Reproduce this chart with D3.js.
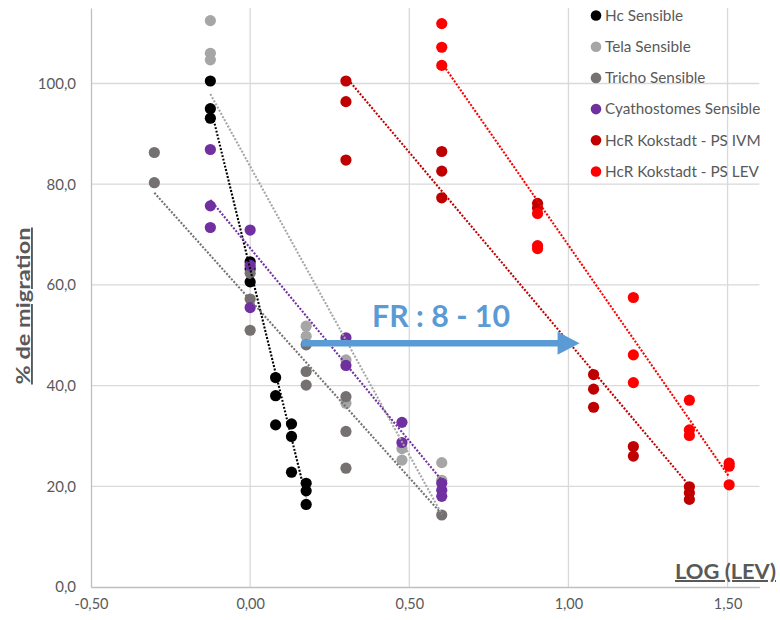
<!DOCTYPE html>
<html>
<head>
<meta charset="utf-8">
<script src="https://cdn.jsdelivr.net/npm/d3@7"></script>
<style>
  html, body { margin: 0; padding: 0; background: #fff; }
  svg { display: block; font-family: Lato, "Open Sans", sans-serif; }
</style>
</head>
<body>
<svg id="chart" width="780" height="620"></svg>
<script>
// ---- data (x = log concentration, y = % de migration) ----
const seriesNames = ["Hc Sensible", "Tela Sensible", "Tricho Sensible", "Cyathostomes Sensible", "HcR Kokstadt - PS IVM", "HcR Kokstadt - PS LEV"];
const seriesColors = ["#000000", "#A6A6A6", "#767171", "#7030A0", "#C00000", "#FF0000"];

const hcX = [-0.125, -0.125, -0.125, 0, 0, 0, 0.08, 0.08, 0.08, 0.13, 0.13, 0.13, 0.176, 0.176, 0.176];
const hcY = [100.5, 95.0, 93.1, 64.6, 63.2, 60.6, 41.6, 38.0, 32.2, 32.4, 29.9, 22.8, 20.6, 19.1, 16.4];

const telaX = [-0.125, -0.125, -0.125, 0.176, 0.176, 0.301, 0.301, 0.477, 0.477, 0.602, 0.602];
const telaY = [112.5, 106.0, 104.7, 51.8, 49.8, 45.1, 36.5, 27.5, 25.2, 24.7, 21.2];

const trichoX = [-0.301, -0.301, 0, 0, 0, 0.176, 0.176, 0.176, 0.301, 0.301, 0.301, 0.602];
const trichoY = [86.3, 80.3, 62.3, 57.2, 51.0, 48.1, 42.8, 40.1, 37.8, 30.9, 23.6, 14.3];

const cyathX = [-0.125, -0.125, -0.125, 0, 0, 0, 0.301, 0.301, 0.477, 0.477, 0.602, 0.602, 0.602];
const cyathY = [86.9, 75.7, 71.4, 70.9, 63.9, 55.5, 49.5, 44.0, 32.7, 28.7, 20.6, 19.2, 18.0];

const ivmX = [0.301, 0.301, 0.301, 0.602, 0.602, 0.602, 0.903, 0.903, 1.079, 1.079, 1.079, 1.204, 1.204, 1.38, 1.38, 1.38];
const ivmY = [100.5, 96.4, 84.8, 86.5, 82.6, 77.3, 76.2, 75.3, 42.2, 39.3, 35.7, 27.9, 26.0, 19.9, 18.7, 17.4];

const levX = [0.602, 0.602, 0.602, 0.903, 0.903, 0.903, 1.204, 1.204, 1.204, 1.38, 1.38, 1.38, 1.505, 1.505, 1.505];
const levY = [111.9, 107.2, 103.6, 74.2, 67.8, 67.2, 57.5, 46.1, 40.6, 37.1, 31.2, 30.1, 24.6, 24.0, 20.3];

// linear trendlines: [[x0, y0], [x1, y1]]
const hcTrend = [[-0.125, 95.5], [0.176, 17.7]];
const telaTrend = [[-0.125, 97.9], [0.602, 14.5]];
const trichoTrend = [[-0.301, 78.3], [0.602, 14.5]];
const cyathTrend = [[-0.125, 76.9], [0.602, 21.2]];
const ivmTrend = [[0.301, 101.3], [1.38, 20.1]];
const levTrend = [[0.602, 104.1], [1.505, 21.9]];

const xTickValues = [-0.5, 0, 0.5, 1.0, 1.5];
const xTickLabels = ["-0,50", "0,00", "0,50", "1,00", "1,50"];
const yTickValues = [0, 20, 40, 60, 80, 100];
const yTickLabels = ["0,0", "20,0", "40,0", "60,0", "80,0", "100,0"];

const arrowFrom = [0.162, 48.4];
const arrowTo = [1.035, 48.4];
const arrowLabel = "FR : 8 - 10";
const xTitle = "LOG (LEV)";
const yTitle = "% de migration";

// ---- build ----
const seriesX = [hcX, telaX, trichoX, cyathX, ivmX, levX];
const seriesY = [hcY, telaY, trichoY, cyathY, ivmY, levY];
const trends = [hcTrend, telaTrend, trichoTrend, cyathTrend, ivmTrend, levTrend];

const svg = d3.select("#chart");
const x = d3.scaleLinear().domain([-0.5, 1.6]).range([91, 759.4]);
const y = d3.scaleLinear().domain([0, 115]).range([587, 8]);

const grid = svg.append("g");
grid.selectAll("line.h").data(yTickValues.filter(v => v > 0)).join("line")
  .attr("x1", x(-0.5)).attr("x2", x(1.6))
  .attr("y1", d => y(d)).attr("y2", d => y(d))
  .attr("stroke", "#D9D9D9").attr("stroke-width", 1.3);
grid.selectAll("line.v").data(xTickValues.filter(v => v > -0.5)).join("line")
  .attr("y1", y(115)).attr("y2", y(0))
  .attr("x1", d => x(d)).attr("x2", d => x(d))
  .attr("stroke", "#D9D9D9").attr("stroke-width", 1.3);

// axes
const xAxis = d3.axisBottom(x).tickValues(xTickValues).tickSize(0).tickFormat((d, i) => xTickLabels[i]);
const gx = svg.append("g").attr("transform", `translate(0,${y(0)})`).call(xAxis);
gx.select(".domain").attr("stroke", "#BFBFBF").attr("stroke-width", 1.3);
gx.selectAll("text").attr("fill", "#595959").attr("font-size", 14.5).attr("dy", 0).attr("y", 22)
  .attr("font-family", "Lato, 'Open Sans', sans-serif");

const yAxis = d3.axisLeft(y).tickValues(yTickValues).tickSize(0).tickFormat((d, i) => yTickLabels[i]);
const gy = svg.append("g").attr("transform", `translate(${x(-0.5)},0)`).call(yAxis);
gy.select(".domain").attr("stroke", "#BFBFBF").attr("stroke-width", 1.3);
gy.selectAll("text").attr("fill", "#595959").attr("font-size", 15).attr("x", -15)
  .attr("font-family", "Lato, 'Open Sans', sans-serif");

// points
seriesX.forEach((xs, s) => {
  const pts = xs.map((v, i) => [v, seriesY[s][i]]);
  svg.append("g").selectAll("circle").data(pts).join("circle")
    .attr("cx", d => x(d[0])).attr("cy", d => y(d[1])).attr("r", 5.6)
    .attr("fill", seriesColors[s]);
});

// trendlines
const line = d3.line().x(d => x(d[0])).y(d => y(d[1]));
trends.forEach((t, s) => {
  svg.append("path").attr("d", line(t))
    .attr("fill", "none").attr("stroke", seriesColors[s])
    .attr("stroke-width", 2.1).attr("stroke-dasharray", "2 1.6");
});

// arrow annotation
const blue = "#5B9BD5";
const ax0 = x(arrowFrom[0]), ay = y(arrowFrom[1]), ax1 = x(arrowTo[0]);
svg.append("line").attr("x1", ax0).attr("x2", ax1 - 20).attr("y1", ay).attr("y2", ay)
  .attr("stroke", blue).attr("stroke-width", 6.5);
svg.append("path")
  .attr("d", `M${ax1},${ay} L${ax1 - 22},${ay - 11.5} L${ax1 - 22},${ay + 11.5} Z`)
  .attr("fill", blue);
svg.append("text").attr("x", 372).attr("y", 327).text(arrowLabel)
  .attr("fill", blue).attr("font-size", 30).attr("font-weight", "bold")
  .attr("textLength", 138).attr("lengthAdjust", "spacingAndGlyphs");

// legend
const lg = svg.append("g");
seriesNames.forEach((n, i) => {
  const ly = 15.5 + i * 31.2;
  lg.append("circle").attr("cx", 596).attr("cy", ly).attr("r", 5.3).attr("fill", seriesColors[i]);
  lg.append("text").attr("x", 605).attr("y", ly).attr("dy", "0.35em").text(n)
    .attr("fill", "#595959").attr("font-size", 15.3);
});

// axis titles
svg.append("text").attr("x", 675).attr("y", 579).text(xTitle)
  .attr("fill", "#595959").attr("font-size", 20).attr("font-weight", "bold")
  .attr("text-decoration", "underline")
  .attr("textLength", 101).attr("lengthAdjust", "spacingAndGlyphs");
svg.append("text").attr("transform", "translate(30,306) rotate(-90)")
  .attr("text-anchor", "middle").text(yTitle)
  .attr("fill", "#595959").attr("font-size", 19).attr("font-weight", "bold")
  .attr("text-decoration", "underline")
  .attr("textLength", 157).attr("lengthAdjust", "spacingAndGlyphs");
</script>
</body>
</html>
